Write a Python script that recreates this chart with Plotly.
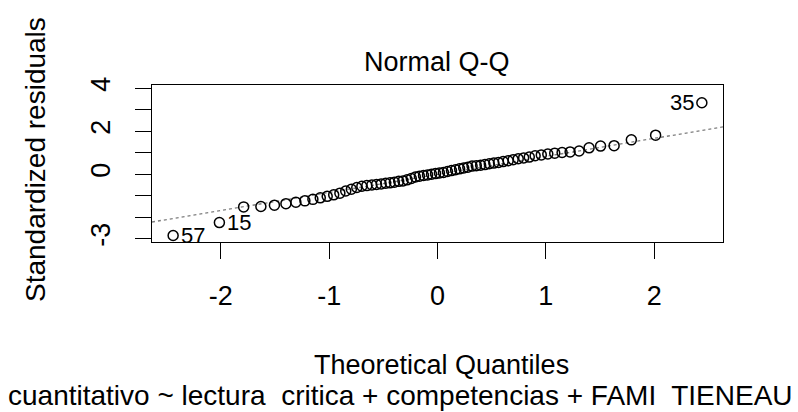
import plotly.graph_objects as go

# Theoretical quantiles (x) and standardized residuals (y)
theoretical_q = [
    -2.440, -2.013, -1.789, -1.630, -1.505, -1.399, -1.307, -1.224, -1.150, -1.082,
    -1.018, -0.958, -0.901, -0.847, -0.795, -0.745, -0.698, -0.652, -0.606, -0.563,
    -0.520, -0.478, -0.438, -0.398, -0.358, -0.319, -0.280, -0.242, -0.204, -0.167,
    -0.129, -0.092, -0.055, -0.018,
    0.018, 0.055, 0.092, 0.129, 0.167, 0.204, 0.242, 0.280, 0.319, 0.358,
    0.398, 0.438, 0.478, 0.520, 0.563, 0.606, 0.652, 0.698, 0.745, 0.795,
    0.847, 0.901, 0.958, 1.018, 1.082, 1.150, 1.224, 1.307, 1.399, 1.505,
    1.630, 1.789, 2.013, 2.440,
]
std_resid = [
    -2.85, -2.25, -1.52, -1.50, -1.44, -1.37, -1.30, -1.24, -1.17, -1.10,
    -1.03, -0.96, -0.88, -0.78, -0.70, -0.62, -0.56, -0.53, -0.50, -0.48,
    -0.45, -0.42, -0.40, -0.37, -0.33, -0.31, -0.26, -0.20, -0.13, -0.09,
    -0.06, -0.03, 0.00, 0.03,
    0.06, 0.08, 0.13, 0.17, 0.21, 0.25, 0.29, 0.33, 0.38, 0.40,
    0.42, 0.45, 0.49, 0.52, 0.55, 0.59, 0.63, 0.68, 0.72, 0.76,
    0.80, 0.86, 0.90, 0.94, 0.98, 1.01, 1.04, 1.08, 1.23, 1.31,
    1.33, 1.60, 1.82, 3.33,
]
# labelled observations: (index into arrays, label, side)
id_points = [(0, "57", "right"), (1, "15", "right"), (67, "35", "left")]

# reference line (qqline)
line_intercept = -0.01
line_slope = 0.84

x_range = [-2.635, 2.635]
y_range = [-3.155, 4.155]
x_ticks = [-2, -1, 0, 1, 2]
y_ticks = [-3, -2, -1, 0, 1, 2, 3, 4]
y_ticktext = ["-3", "", "", "0", "", "2", "", "4"]

title_text = "Normal Q-Q"
xlab = "Theoretical Quantiles"
ylab = "Standardized residuals"
sub_text = "cuantitativo ~ lectura  critica + competencias + FAMI  TIENEAU"

FONT = "Liberation Sans, Arial, sans-serif"
W, H = 798, 412
ML, MR, MT, MB = 152, 75, 85, 170
PW, PH = W - ML - MR, H - MT - MB


def px_x(px):
    return (px - ML) / PW


def px_y(py):
    return (H - MB - py) / PH


fig = go.Figure()

fig.add_trace(go.Scatter(
    x=x_range,
    y=[line_intercept + line_slope * v for v in x_range],
    mode="lines",
    line=dict(color="#7f7f7f", width=1.3, dash="3px,3px"),
    hoverinfo="skip",
    showlegend=False,
))

fig.add_trace(go.Scatter(
    x=theoretical_q,
    y=std_resid,
    mode="markers",
    marker=dict(symbol="circle-open", size=10, color="black", line=dict(width=1.5, color="black")),
    showlegend=False,
))

for idx, lab, side in id_points:
    fig.add_annotation(
        x=theoretical_q[idx], y=std_resid[idx], xref="x", yref="y",
        text=lab, showarrow=False,
        xanchor="left" if side == "right" else "right",
        xshift=6 if side == "right" else -6,
        yanchor="middle",
        font=dict(family=FONT, size=22, color="black"),
    )

axis_common = dict(
    showline=True, mirror=True, linecolor="black", linewidth=1,
    ticks="outside", ticklen=16, tickwidth=1, tickcolor="black",
    showgrid=False, zeroline=False, automargin=False,
    tickfont=dict(family=FONT, size=27, color="black"),
)

fig.update_layout(
    width=W, height=H,
    margin=dict(l=ML, r=MR, t=MT, b=MB, pad=0, autoexpand=False),
    paper_bgcolor="white", plot_bgcolor="white",
    xaxis=dict(range=x_range, tickmode="array", tickvals=x_ticks,
               ticktext=[str(v) for v in x_ticks], ticklabelstandoff=14, **axis_common),
    yaxis=dict(range=y_range, tickmode="array", tickvals=y_ticks,
               ticktext=y_ticktext, tickangle=-90, ticklabelstandoff=14, **axis_common),
    showlegend=False,
)

fig.add_annotation(text=title_text, xref="paper", yref="paper",
                   x=px_x(437), y=px_y(62), xanchor="center", yanchor="middle",
                   showarrow=False, font=dict(family=FONT, size=27, color="black"))
fig.add_annotation(text=xlab, xref="paper", yref="paper",
                   x=px_x(441), y=px_y(365), xanchor="center", yanchor="middle",
                   showarrow=False, font=dict(family=FONT, size=27, color="black"))
fig.add_annotation(text=sub_text, xref="paper", yref="paper",
                   x=px_x(400), y=px_y(395), xanchor="center", yanchor="middle",
                   showarrow=False, font=dict(family=FONT, size=28, color="black"))
fig.add_annotation(text=ylab, xref="paper", yref="paper",
                   x=px_x(35), y=px_y(160), xanchor="center", yanchor="middle",
                   textangle=-90, showarrow=False,
                   font=dict(family=FONT, size=28, color="black"))

fig.write_html("out.html", config={"displayModeBar": False},
               post_script="document.body.style.margin='0';document.body.style.padding='0';")
